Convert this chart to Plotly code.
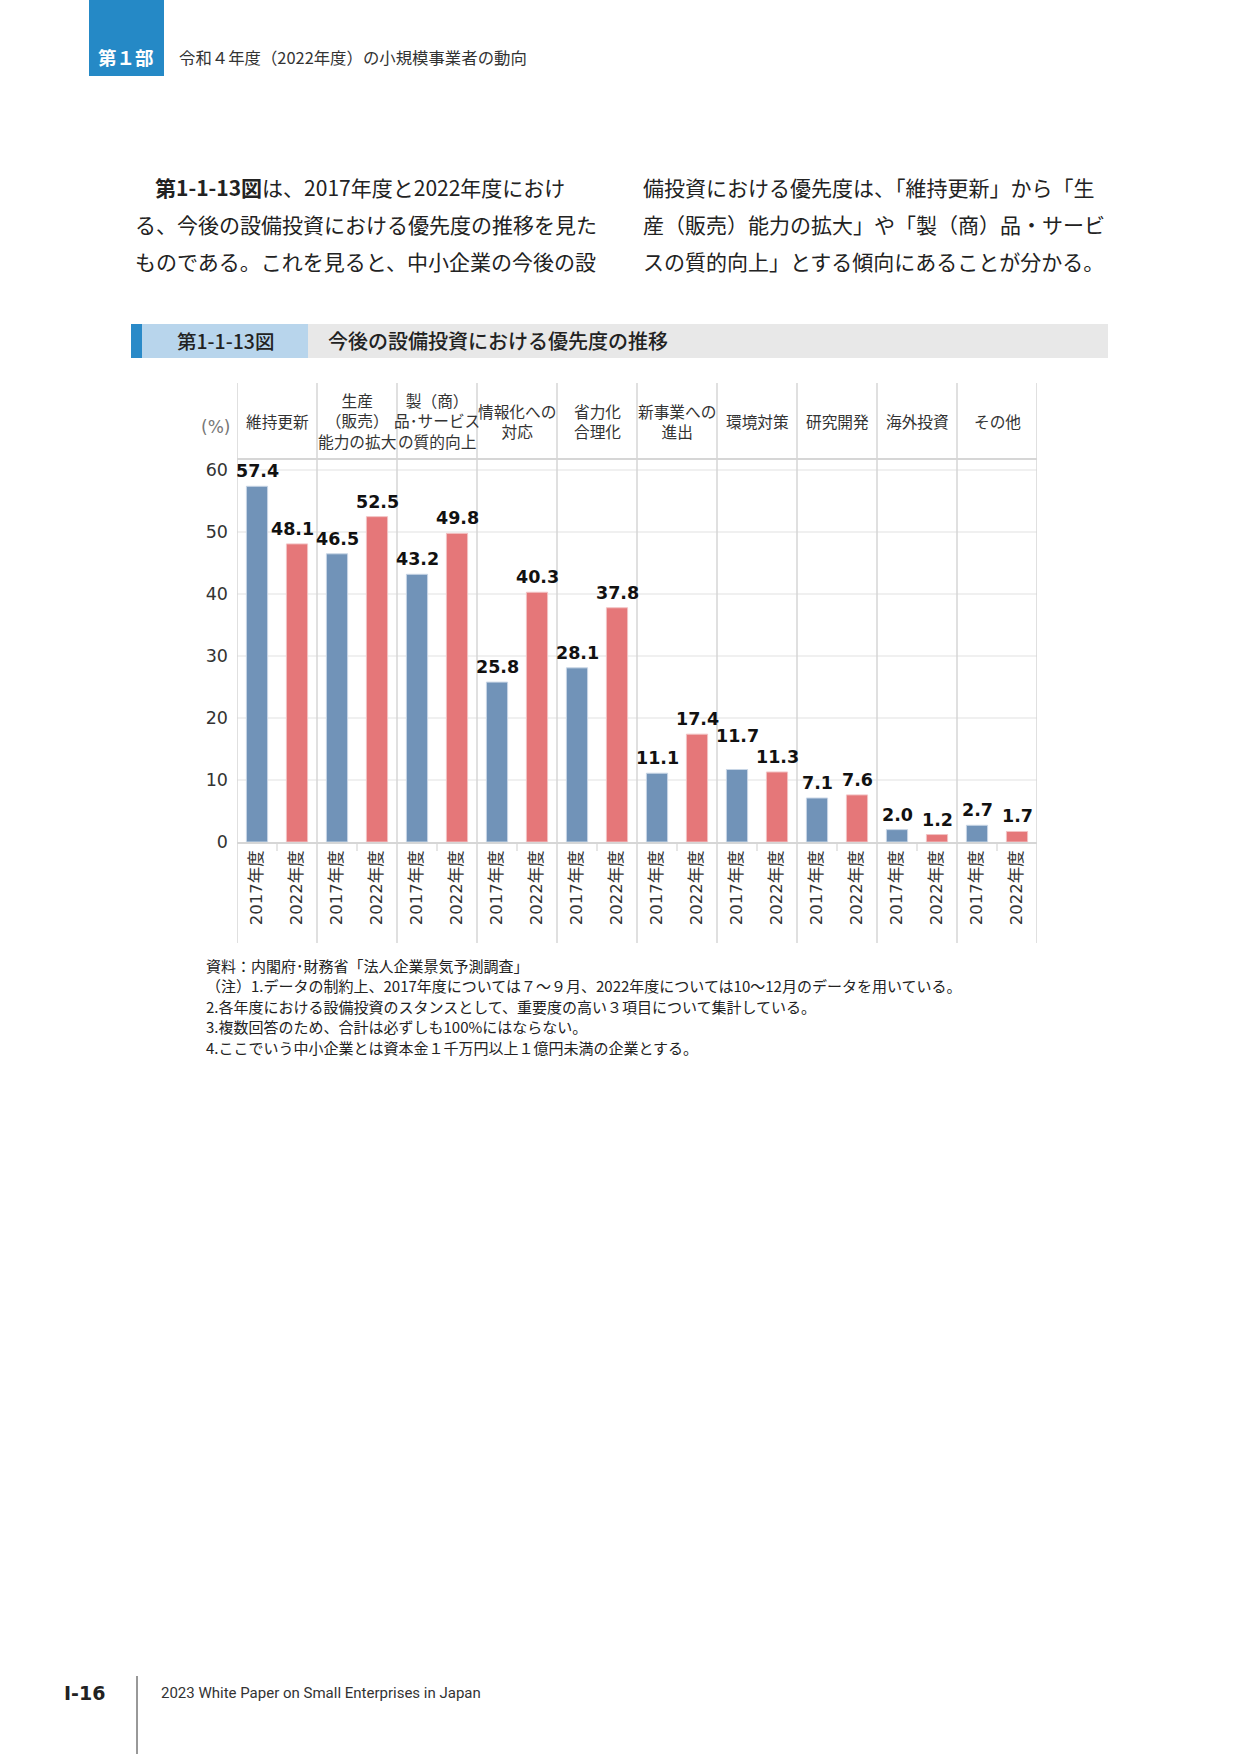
import plotly.graph_objects as go

# ---------------- data ----------------
categories = ["維持更新", "生産<br>（販売）<br>能力の拡大", "製（商）<br>品･サービス<br>の質的向上",
              "情報化への<br>対応", "省力化<br>合理化", "新事業への<br>進出", "環境対策",
              "研究開発", "海外投資", "その他"]
years = ["2017年度", "2022年度"]
v2017 = [57.4, 46.5, 43.2, 25.8, 28.1, 11.1, 11.7, 7.1, 2.0, 2.7]
v2022 = [48.1, 52.5, 49.8, 40.3, 37.8, 17.4, 11.3, 7.6, 1.2, 1.7]
y_ticks = [0, 10, 20, 30, 40, 50, 60]

header_part = "第１部"
header_title = "令和４年度（2022年度）の小規模事業者の動向"
body_left = ["<b>第1-1-13図</b>は、2017年度と2022年度におけ",
             "る、今後の設備投資における優先度の推移を見た",
             "ものである。これを見ると、中小企業の今後の設"]
body_right = ["備投資における優先度は、「維持更新」から「生",
              "産（販売）能力の拡大」や「製（商）品・サービ",
              "スの質的向上」とする傾向にあることが分かる。"]
fig_no = "第1-1-13図"
fig_title = "今後の設備投資における優先度の推移"
notes = ["資料：内閣府･財務省「法人企業景気予測調査」",
         "（注）1.データの制約上、2017年度については７～９月、2022年度については10～12月のデータを用いている。",
         "2.各年度における設備投資のスタンスとして、重要度の高い３項目について集計している。",
         "3.複数回答のため、合計は必ずしも100%にはならない。",
         "4.ここでいう中小企業とは資本金１千万円以上１億円未満の企業とする。"]
page_no = "Ⅰ-16"
footer_text = "2023 White Paper on Small Enterprises in Japan"

# label nudges (pixels) for crowded value labels: (series, index) -> (dx, dy)
label_nudge = {(0, 6): (0, 18), (1, 0): (-5, 0)}

W, H_PAGE, H_FIG = 1241, 1754, 1764
def px(x): return x / W
def py(y): return 1 - y / H_PAGE

JP = "Noto Sans CJK JP"
NUM = "DejaVu Sans, Noto Sans CJK JP"
BLUE = "#7193b8"
RED = "#e57779"

n = len(categories)
x17 = [2 * i + 0.5 for i in range(n)]
x22 = [2 * i + 1.5 for i in range(n)]

fig = go.Figure()
fig.add_trace(go.Bar(x=x17, y=v2017, width=0.53, marker=dict(color=BLUE, line=dict(color="#c9d6e6", width=1)),
                     name=years[0], showlegend=False, hoverinfo="y"))
fig.add_trace(go.Bar(x=x22, y=v2022, width=0.53, marker=dict(color=RED, line=dict(color="#f2c3c4", width=1)),
                     name=years[1], showlegend=False, hoverinfo="y"))

tickvals = []
ticktext = []
for i in range(n):
    tickvals += [x17[i], x22[i]]
    ticktext += [years[0], years[1]]

x_dom = [px(237), px(1037)]
y_dom = [py(842), py(459)]

fig.update_layout(
    width=W, height=H_FIG, margin=dict(l=0, r=0, t=0, b=0),
    paper_bgcolor="white", plot_bgcolor="white",
    barmode="overlay",
    xaxis=dict(domain=x_dom, range=[0, 2 * n], tickmode="array", tickvals=tickvals, ticktext=ticktext,
               tickangle=-90, tickfont=dict(family=NUM, size=16.5, color="#333"), showgrid=False,
               zeroline=False, showline=True, linecolor="#d6d6d6", linewidth=1.5, ticks="",
               minor=dict(tickmode="array", tickvals=[2 * i + 1 for i in range(n)], ticks="outside",
                          ticklen=7, tickcolor="#e6e6e6", tickwidth=1.5, showgrid=False),
               fixedrange=True),
    yaxis=dict(domain=y_dom, range=[0, 61.8], tickmode="array", tickvals=y_ticks,
               tickfont=dict(family="DejaVu Sans", size=17.5, color="#333"), showgrid=True,
               gridcolor="#f0f0f0", gridwidth=1.5, zeroline=False, showline=False, ticks="",
               ticklabelstandoff=8, fixedrange=True),
)

shapes = []
shapes.append(dict(type="rect", xref="paper", yref="paper", x0=px(89), x1=px(164), y0=py(76), y1=1,
                   fillcolor="#2589c6", line=dict(width=0), layer="below"))
shapes.append(dict(type="rect", xref="paper", yref="paper", x0=px(308), x1=px(1108), y0=py(358), y1=py(324),
                   fillcolor="#e8e8e8", line=dict(width=0), layer="below"))
shapes.append(dict(type="rect", xref="paper", yref="paper", x0=px(142), x1=px(308), y0=py(358), y1=py(324),
                   fillcolor="#b8d5ec", line=dict(width=0), layer="below"))
shapes.append(dict(type="rect", xref="paper", yref="paper", x0=px(131), x1=px(142), y0=py(358), y1=py(324),
                   fillcolor="#2a8ac8", line=dict(width=0), layer="below"))
shapes.append(dict(type="line", xref="paper", yref="paper", x0=x_dom[0], x1=x_dom[1], y0=y_dom[1], y1=y_dom[1],
                   line=dict(color="#d6d6d6", width=2)))
for i in range(n + 1):
    shapes.append(dict(type="line", xref="x", yref="paper", x0=2 * i, x1=2 * i, y0=py(943), y1=py(383),
                       line=dict(color="#d6d6d6", width=1.5)))
shapes.append(dict(type="line", xref="paper", yref="paper", x0=px(137), x1=px(137), y0=0, y1=py(1676),
                   line=dict(color="#333", width=1)))
fig.update_layout(shapes=shapes)

ann = []
for s, (xs, vs) in enumerate([(x17, v2017), (x22, v2022)]):
    for i, (xv, v) in enumerate(zip(xs, vs)):
        dx, dy = label_nudge.get((s, i), (0, 0))
        ann.append(dict(text=f"{v:.1f}", x=xv, y=v, xref="x", yref="y", xanchor="center", yanchor="bottom",
                        xshift=dx, yshift=3 + dy, showarrow=False,
                        font=dict(family="DejaVu Sans", size=17.5, color="#111", weight="bold")))
ann.append(dict(text=header_part, x=px(126), y=py(57), xref="paper", yref="paper", xanchor="center",
                yanchor="middle", showarrow=False, font=dict(family=JP, size=18.5, color="white", weight="bold")))
ann.append(dict(text=header_title, x=px(177), y=py(57), xref="paper", yref="paper", xanchor="left",
                yanchor="middle", showarrow=False, font=dict(family=JP, size=16.4, color="#333")))
for k, line in enumerate(body_left):
    ann.append(dict(text=line, x=px(153 if k == 0 else 133), y=py(187 + 37 * k), xref="paper", yref="paper",
                    xanchor="left", yanchor="middle", showarrow=False, font=dict(family=JP, size=21, color="#222")))
for k, line in enumerate(body_right):
    ann.append(dict(text=line, x=px(641), y=py(187 + 37 * k), xref="paper", yref="paper",
                    xanchor="left", yanchor="middle", showarrow=False, font=dict(family=JP, size=21, color="#222")))
ann.append(dict(text=fig_no, x=px(225), y=py(341), xref="paper", yref="paper", xanchor="center",
                yanchor="middle", showarrow=False, font=dict(family=JP, size=19.5, color="#222", weight=500)))
ann.append(dict(text=fig_title, x=px(326), y=py(341), xref="paper", yref="paper", xanchor="left",
                yanchor="middle", showarrow=False, font=dict(family=JP, size=20, color="#222", weight=500)))
for i, c in enumerate(categories):
    ann.append(dict(text=c, x=2 * i + 1, y=py(421), xref="x", yref="paper", xanchor="center",
                    yanchor="middle", showarrow=False, font=dict(family=JP, size=15.7, color="#333")))
ann.append(dict(text="(%)", x=px(215), y=py(427), xref="paper", yref="paper", xanchor="center",
                yanchor="middle", showarrow=False, font=dict(family="DejaVu Sans", size=17, color="#777")))
for k, line in enumerate(notes):
    ann.append(dict(text=line, x=px(204), y=py(965 + 20.5 * k), xref="paper", yref="paper", xanchor="left",
                    yanchor="middle", showarrow=False, font=dict(family=JP, size=15, color="#222")))
ann.append(dict(text=page_no, x=px(84), y=py(1693), xref="paper", yref="paper", xanchor="center",
                yanchor="middle", showarrow=False, font=dict(family="DejaVu Sans", size=19, color="#222", weight="bold")))
ann.append(dict(text=footer_text, x=px(159), y=py(1693), xref="paper", yref="paper", xanchor="left",
                yanchor="middle", showarrow=False, font=dict(family="Roboto", size=15, color="#333")))
fig.update_layout(annotations=ann)

fig.write_html("out.html")
